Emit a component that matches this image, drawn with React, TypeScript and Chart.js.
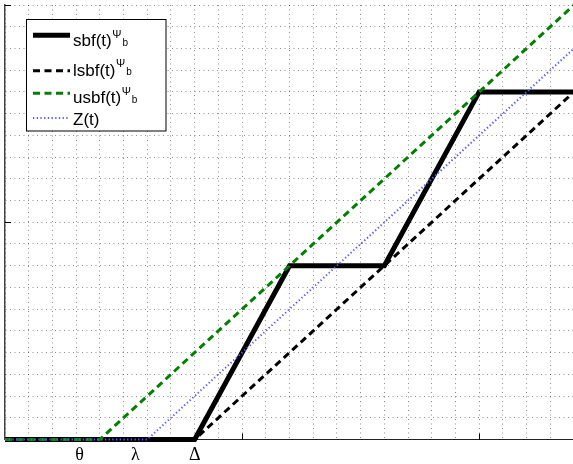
import React, { useEffect, useRef } from 'react';
import { Chart, registerables } from 'chart.js';

Chart.register(...registerables);

// ---- data ----
const sbfT = [0, 8, 12, 16, 20, 24];
const sbfV = [0, 0, 8, 8, 16, 16];
const lsbfT = [0, 8, 24];
const lsbfV = [0, 0, 16];
const usbfT = [0, 4, 24];
const usbfV = [0, 0, 20];
const zT = [0, 6, 24];
const zV = [0, 0, 18];

const xTickPos = [3.15, 5.5, 8];
const xTickLabels = ['θ', 'λ', 'Δ'];
const majorX = [10, 20];
const majorY = [10, 20];

const legendNames = ['sbf(t)', 'lsbf(t)', 'usbf(t)', 'Z(t)'];
const legendSup = ['Ψ', 'Ψ', 'Ψ', ''];
const legendSub = ['b', 'b', 'b', ''];

const toPts = (t: number[], v: number[]) => t.map((x, i) => ({ x, y: v[i] }));

const SERIF = '"Liberation Serif", "Times New Roman", serif';
const SANS = '"Liberation Sans", Arial, Helvetica, sans-serif';

const decorPlugin = {
  id: 'decor',
  afterDatasetsDraw(chart: any) {
    const ctx = chart.ctx as CanvasRenderingContext2D;
    const xs = chart.scales.x;
    const ys = chart.scales.y;
    const area = chart.chartArea;
    ctx.save();
    // inward major ticks
    ctx.strokeStyle = '#000';
    ctx.lineWidth = 1;
    ctx.setLineDash([]);
    majorX.forEach((v) => {
      const px = Math.round(xs.getPixelForValue(v)) + 0.5;
      ctx.beginPath();
      ctx.moveTo(px, area.bottom);
      ctx.lineTo(px, area.bottom - 6);
      ctx.stroke();
    });
    majorY.forEach((v) => {
      const py = Math.round(ys.getPixelForValue(v)) + 0.5;
      ctx.beginPath();
      ctx.moveTo(area.left, py);
      ctx.lineTo(area.left + 6, py);
      ctx.stroke();
    });
    // custom tick labels
    ctx.fillStyle = '#000';
    ctx.font = `18px ${SERIF}`;
    ctx.textAlign = 'center';
    ctx.textBaseline = 'alphabetic';
    xTickPos.forEach((v, i) => {
      ctx.fillText(xTickLabels[i], xs.getPixelForValue(v), 459.5);
    });

    // legend
    const bx = 26.5, by = 19.5, bw = 139.5, bh = 111.5;
    ctx.fillStyle = '#fff';
    ctx.fillRect(bx, by, bw, bh);
    ctx.strokeStyle = '#000';
    ctx.lineWidth = 1;
    ctx.strokeRect(bx, by, bw, bh);
    const lineYs = [35.3, 70.7, 93.3, 118];
    const baseYs = [46, 75.5, 103.3, 125];
    chart.data.datasets.forEach((ds: any, i: number) => {
      ctx.save();
      ctx.strokeStyle = ds.borderColor;
      ctx.lineWidth = ds.borderWidth;
      ctx.setLineDash(ds.borderDash || []);
      ctx.lineCap = 'butt';
      ctx.beginPath();
      ctx.moveTo(33, lineYs[i]);
      ctx.lineTo(70, lineYs[i]);
      ctx.stroke();
      ctx.restore();
      ctx.fillStyle = '#000';
      ctx.textAlign = 'left';
      ctx.font = `17px ${SANS}`;
      const tx = 73;
      ctx.fillText(legendNames[i], tx, baseYs[i]);
      const w = ctx.measureText(legendNames[i]).width;
      if (legendSup[i]) {
        ctx.font = `11px ${SANS}`;
        ctx.fillText(legendSup[i], tx + w + 0.5, baseYs[i] - 8.5);
        const w2 = ctx.measureText(legendSup[i]).width;
        ctx.font = `10px ${SANS}`;
        ctx.fillText(legendSub[i], tx + w + w2 + 1.5, baseYs[i] - 0.5);
      }
    });
    ctx.restore();
  },
};

export default function App() {
  const ref = useRef<HTMLCanvasElement | null>(null);
  useEffect(() => {
    document.body.style.margin = '0';
    document.body.style.overflow = 'hidden';
    const canvas = ref.current!;
    const chart = new Chart(canvas, {
      type: 'line',
      data: {
        datasets: [
          {
            label: 'sbf',
            data: toPts(sbfT, sbfV),
            borderColor: '#000',
            borderWidth: 5,
            pointRadius: 0,
            fill: false,
            tension: 0,
            order: 4,
            clip: false,
            borderJoinStyle: 'miter',
          } as any,
          {
            label: 'lsbf',
            data: toPts(lsbfT, lsbfV),
            borderColor: '#000',
            borderWidth: 3,
            borderDash: [7, 4.5],
            pointRadius: 0,
            fill: false,
            tension: 0,
            order: 3,
            clip: false,
          },
          {
            label: 'usbf',
            data: toPts(usbfT, usbfV),
            borderColor: '#008000',
            borderWidth: 3,
            borderDash: [7, 4.5],
            pointRadius: 0,
            fill: false,
            tension: 0,
            order: 2,
            clip: false,
          },
          {
            label: 'Z',
            data: toPts(zT, zV),
            borderColor: '#5a5aff',
            borderWidth: 2,
            borderDash: [1.3, 2.4],
            pointRadius: 0,
            fill: false,
            tension: 0,
            order: 1,
            clip: false,
          },
        ],
      },
      options: {
        animation: false,
        responsive: false,
        devicePixelRatio: 1,
        layout: { padding: { left: 5, top: 5, right: 2, bottom: 24.5 } },
        plugins: { legend: { display: false }, tooltip: { enabled: false } },
        events: [],
        scales: {
          x: {
            type: 'linear',
            min: 0,
            max: 24,
            ticks: { display: false, stepSize: 1 },
            grid: { color: 'rgba(0,0,0,0.45)', lineWidth: 1, drawTicks: false, tickLength: 0 },
            border: { display: true, color: '#222', width: 1, dash: [1, 3.5] },
          },
          y: {
            type: 'linear',
            min: 0,
            max: 20,
            ticks: { display: false, stepSize: 1 },
            grid: { color: 'rgba(0,0,0,0.45)', lineWidth: 1, drawTicks: false, tickLength: 0 },
            border: { display: true, color: '#444', width: 1.5, dash: [1, 3.5] },
          },
        },
      },
      plugins: [decorPlugin],
    });
    return () => chart.destroy();
  }, []);
  return (
    <div style={{ width: 573, height: 464, overflow: 'hidden', position: 'relative', background: '#fff' }}>
      <canvas ref={ref} width={576} height={464} style={{ display: 'block' }} />
    </div>
  );
}
